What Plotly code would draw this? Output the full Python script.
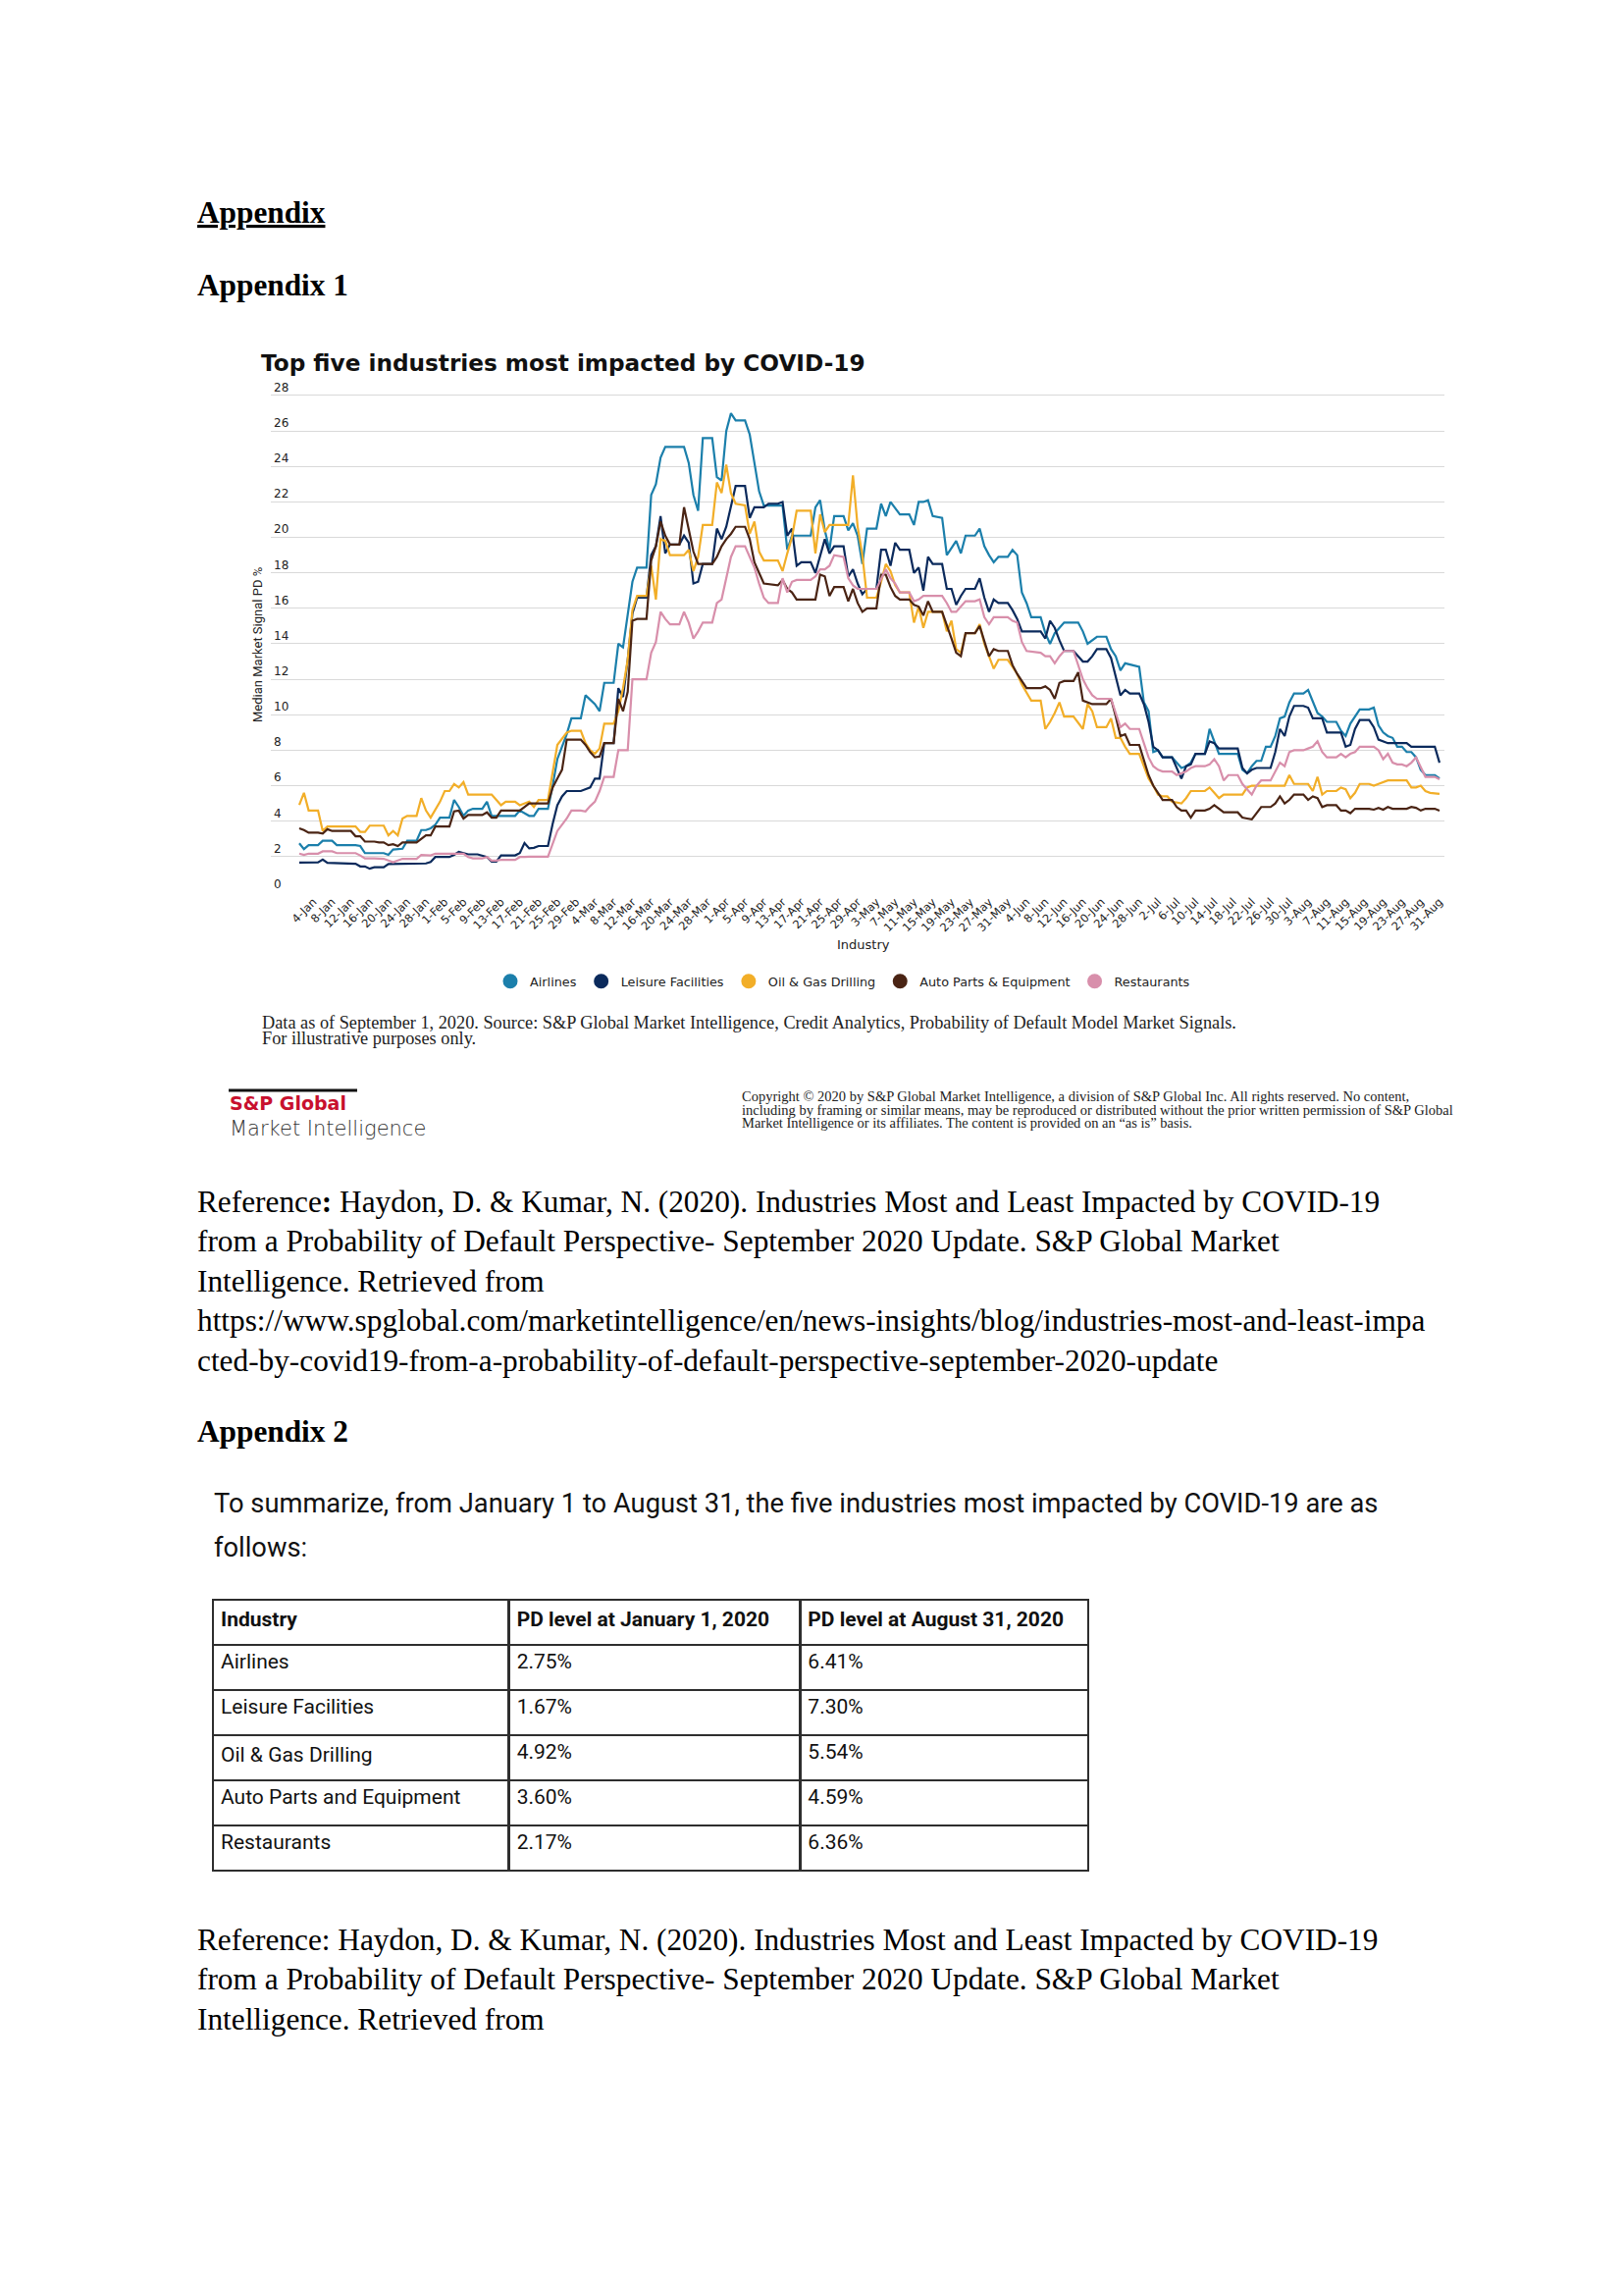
import pandas as pd
import plotly.graph_objects as go

W, H = 1655, 2317
START = pd.Timestamp("2020-01-01")

# ---------------- data (day offset from 1-Jan-2020, median market signal PD %) ----------------
series_names = ["Airlines", "Leisure Facilities", "Oil & Gas Drilling", "Auto Parts & Equipment", "Restaurants"]
series_colors = ["#1b7fab", "#0b2a5c", "#f2ae28", "#4a2414", "#d88fab"]

airlines = [(0,2.75),(1,2.43),(2,2.65),(4,2.65),(5,2.9),(7,2.9),(8,2.65),(12,2.65),(13,2.6),(14,2.2),(18,2.2),(19,2.1),(20,2.4),(22,2.45),(23,2.9),(25,2.9),(26,3.5),(27,3.5),(28,3.6),(29,3.8),(30,4.2),(32,4.2),(33,5.2),(34,4.8),(35,4.3),(36,4.6),(37,4.7),(39,4.7),(40,5.1),(41,4.3),(46,4.3),(47,4.6),(49,4.3),(50,4.3),(51,4.7),(53,4.7),(54,6.0),(55,7.5),(57,8.9),(58,9.8),(60,9.8),(61,11.1),(63,10.6),(64,10.2),(65,11.8),(67,11.8),(68,14.0),(69,13.8),(71,17.5),(72,18.3),(74,18.3),(75,22.4),(76,23.0),(77,24.5),(78,25.1),(82,25.1),(83,24.2),(84,22.4),(85,21.5),(86,25.6),(88,25.6),(89,23.4),(90,23.2),(91,26.0),(92,27.0),(93,26.6),(95,26.6),(96,25.8),(97,24.2),(98,22.6),(99,21.8),(103,21.8),(104,19.3),(105,20.1),(109,20.1),(110,21.7),(111,22.1),(112,20.4),(113,19.3),(114,21.2),(116,21.2),(117,20.4),(118,20.8),(119,20.1),(120,18.5),(121,20.5),(123,20.5),(124,21.9),(125,21.2),(126,22.0),(128,21.3),(130,21.3),(131,20.7),(132,22.0),(133,22.0),(134,22.1),(135,21.2),(137,21.1),(138,19.0),(139,19.4),(140,19.8),(141,19.1),(142,20.1),(144,20.1),(145,20.5),(146,19.5),(147,19.0),(148,18.6),(149,18.9),(151,18.9),(152,19.3),(153,19.0),(154,16.9),(155,16.3),(156,15.5),(158,15.5),(159,14.6),(160,14.0),(161,14.6),(163,15.2),(166,15.2),(167,14.7),(168,14.0),(170,14.4),(172,14.4),(173,13.7),(174,13.3),(175,12.5),(176,12.9),(179,12.7),(180,10.7),(181,10.2),(182,7.9),(183,8.0),(184,7.6),(186,7.6),(188,7.0),(189,7.1),(190,7.3),(191,7.8),(193,7.8),(194,9.2),(195,8.5),(196,7.8),(200,7.8),(201,6.9),(202,6.7),(203,7.1),(204,7.4),(205,7.4),(206,8.2),(207,8.2),(208,8.8),(209,9.8),(210,9.9),(211,10.7),(212,11.2),(214,11.2),(215,11.4),(216,10.8),(217,10.1),(218,9.9),(219,9.6),(221,9.6),(222,9.1),(223,8.8),(224,9.5),(226,10.3),(228,10.3),(229,10.4),(230,9.4),(231,9.0),(232,8.8),(233,8.7),(234,8.2),(235,8.2),(236,7.9),(237,7.9),(238,7.6),(239,6.9),(240,6.6),(242,6.6),(243,6.41)]

leisure = [(0,1.67),(4,1.68),(5,1.84),(6,1.65),(12,1.6),(13,1.45),(14,1.45),(15,1.32),(16,1.4),(18,1.4),(19,1.58),(21,1.58),(22,1.62),(27,1.62),(28,1.7),(29,1.98),(32,1.98),(33,2.1),(34,2.27),(35,2.2),(36,2.13),(38,2.13),(40,1.98),(41,1.72),(42,1.72),(43,2.07),(46,2.07),(47,2.2),(48,2.77),(49,2.47),(50,2.5),(51,2.6),(53,2.6),(54,3.85),(55,4.9),(56,5.4),(57,5.7),(60,5.7),(62,5.9),(63,6.4),(64,6.4),(65,8.4),(67,8.4),(68,11.5),(69,11.0),(70,13.1),(71,15.7),(72,16.6),(74,16.6),(75,19.0),(76,19.5),(77,21.2),(78,19.1),(79,19.6),(81,19.6),(82,20.1),(83,19.7),(84,17.4),(85,17.5),(86,18.5),(88,18.5),(89,20.5),(90,19.9),(91,20.6),(92,21.7),(93,22.9),(95,22.9),(96,21.1),(97,21.7),(99,21.7),(100,21.9),(102,21.9),(103,22.0),(104,20.1),(105,20.5),(106,18.4),(107,18.6),(109,18.6),(110,18.0),(111,19.0),(112,19.9),(113,19.1),(114,19.5),(116,19.5),(117,17.8),(118,18.2),(119,17.4),(120,16.8),(121,17.1),(123,17.1),(124,19.3),(125,19.3),(126,18.4),(127,19.7),(128,19.3),(130,19.3),(131,18.0),(132,18.3),(133,17.0),(134,18.9),(135,18.5),(137,18.5),(138,17.1),(139,17.1),(140,16.2),(141,16.7),(142,17.1),(144,17.1),(145,17.7),(146,16.6),(147,15.8),(148,16.5),(149,16.3),(151,16.3),(152,15.9),(153,15.4),(154,14.7),(158,14.7),(159,14.3),(160,15.3),(161,14.9),(162,14.2),(163,13.6),(165,13.6),(167,13.0),(168,13.0),(169,13.3),(170,13.7),(172,13.7),(173,13.2),(174,12.2),(175,11.1),(176,11.4),(177,11.2),(179,11.2),(180,10.6),(181,9.6),(182,8.2),(183,8.0),(184,7.6),(186,7.6),(187,7.0),(188,6.4),(189,7.1),(190,7.2),(191,7.8),(193,7.8),(194,8.5),(195,8.4),(196,8.1),(200,8.1),(201,7.0),(202,6.7),(203,6.9),(204,7.0),(207,7.0),(208,7.9),(209,9.2),(210,8.8),(211,9.9),(212,10.5),(214,10.5),(215,10.4),(216,9.8),(218,9.8),(219,9.0),(222,9.0),(223,8.2),(224,8.3),(225,9.2),(226,9.7),(228,9.7),(229,9.3),(230,8.6),(231,8.5),(232,8.4),(236,8.4),(237,8.2),(242,8.2),(243,7.30)]

oil_gas = [(0,4.92),(1,5.6),(2,4.6),(4,4.6),(5,3.45),(6,3.7),(12,3.7),(13,3.4),(14,3.4),(15,3.75),(18,3.75),(19,3.2),(20,3.45),(21,3.2),(22,4.15),(23,4.3),(25,4.3),(26,5.3),(27,4.6),(28,4.2),(30,5.1),(31,5.7),(32,5.7),(33,6.1),(34,5.9),(35,6.2),(36,5.5),(41,5.5),(42,5.2),(43,4.9),(44,5.1),(46,5.1),(47,4.9),(49,5.1),(50,4.8),(51,5.2),(53,5.2),(54,6.8),(55,8.3),(57,9.0),(58,9.1),(60,9.1),(61,8.4),(62,8.0),(63,7.8),(64,8.1),(65,9.5),(67,9.5),(68,10.2),(69,11.5),(70,13.1),(71,15.9),(72,16.7),(74,16.7),(75,18.4),(76,16.5),(77,19.9),(78,19.8),(79,19.0),(82,19.0),(83,19.3),(84,18.1),(85,18.9),(86,20.7),(88,20.7),(89,23.1),(90,22.5),(91,24.1),(92,22.5),(93,21.9),(95,21.8),(96,20.2),(97,20.9),(98,19.2),(99,18.7),(102,18.7),(103,18.1),(104,19.1),(105,20.0),(106,21.5),(109,21.5),(110,19.1),(111,21.3),(112,20.3),(113,20.7),(117,20.7),(118,23.5),(119,20.6),(120,19.0),(121,16.6),(123,16.6),(124,17.5),(125,18.5),(126,18.1),(127,17.3),(128,16.9),(130,16.9),(131,15.2),(132,16.1),(133,14.9),(134,15.8),(137,15.8),(138,14.7),(139,15.3),(140,13.7),(141,13.5),(142,14.6),(144,14.6),(145,15.1),(146,14.0),(147,13.3),(148,12.6),(149,13.1),(151,13.1),(152,12.7),(153,12.3),(154,11.7),(156,10.8),(158,10.8),(159,9.2),(160,9.6),(161,10.1),(162,10.7),(163,9.9),(165,9.9),(167,9.2),(168,10.6),(169,10.2),(170,9.3),(172,9.3),(173,9.8),(174,8.7),(175,8.7),(176,8.2),(177,7.8),(179,7.8),(180,7.1),(181,6.4),(182,6.0),(183,5.5),(184,5.4),(185,5.4),(186,5.1),(188,5.0),(189,5.3),(190,5.7),(193,5.7),(194,5.9),(195,5.6),(196,5.3),(197,5.5),(201,5.5),(202,5.9),(203,6.0),(210,6.0),(211,6.6),(212,6.1),(215,6.1),(216,5.7),(217,6.5),(218,5.5),(219,5.7),(221,5.7),(222,5.9),(223,5.8),(224,5.3),(225,5.6),(226,6.1),(228,6.1),(229,6.0),(230,6.1),(231,6.2),(232,6.3),(236,6.3),(237,5.9),(238,5.9),(239,6.0),(240,5.7),(241,5.6),(243,5.54)]

auto_parts = [(0,3.60),(1,3.5),(2,3.35),(4,3.35),(5,3.3),(6,3.55),(7,3.45),(11,3.45),(12,3.15),(13,3.15),(14,2.85),(16,2.85),(17,2.8),(18,2.8),(19,2.65),(20,2.7),(21,2.6),(22,2.8),(25,2.8),(26,3.0),(27,3.2),(28,3.2),(29,3.7),(32,3.7),(33,4.55),(34,4.6),(35,4.15),(36,4.35),(39,4.35),(40,4.5),(41,4.2),(42,4.2),(43,4.6),(47,4.6),(48,4.8),(49,5.0),(53,5.0),(54,5.9),(55,6.4),(56,6.9),(57,8.6),(60,8.6),(61,8.3),(62,7.9),(63,7.6),(64,7.65),(65,8.4),(67,8.4),(68,10.9),(69,10.2),(70,11.3),(71,15.3),(72,15.4),(74,15.4),(75,18.7),(76,19.5),(77,20.9),(78,20.1),(79,19.6),(81,19.6),(82,21.7),(83,20.4),(84,19.2),(85,18.5),(88,18.5),(89,18.9),(90,19.5),(91,19.9),(92,20.2),(93,20.6),(95,20.6),(96,19.9),(97,18.6),(98,18.0),(99,17.4),(102,17.3),(103,17.6),(104,17.1),(105,16.9),(106,16.5),(110,16.5),(111,17.9),(112,17.8),(113,16.7),(114,17.2),(116,17.2),(117,16.4),(118,17.1),(119,16.3),(120,15.8),(121,16.0),(123,16.0),(124,17.9),(125,17.9),(126,17.2),(127,16.7),(128,16.5),(130,16.5),(131,16.2),(132,16.1),(133,15.6),(134,16.4),(135,15.8),(137,15.8),(138,15.1),(139,14.3),(140,13.5),(141,13.3),(142,14.6),(144,14.6),(145,15.0),(146,14.1),(147,13.3),(148,13.7),(149,13.6),(151,13.6),(152,12.8),(153,12.3),(154,11.9),(155,11.5),(158,11.5),(159,11.6),(160,11.4),(161,10.9),(162,11.8),(163,11.9),(165,11.9),(166,12.4),(167,10.8),(168,10.7),(169,10.6),(172,10.6),(173,10.9),(174,9.9),(175,8.8),(176,8.9),(177,8.3),(179,8.3),(180,7.4),(181,6.6),(182,6.0),(183,5.6),(184,5.2),(186,5.2),(187,4.8),(188,4.6),(189,4.6),(190,4.2),(191,4.6),(193,4.6),(194,4.7),(195,4.9),(196,4.7),(197,4.5),(200,4.5),(201,4.2),(202,4.15),(203,4.1),(204,4.45),(205,4.8),(207,4.8),(208,5.0),(209,5.4),(210,5.0),(211,5.2),(212,5.5),(214,5.5),(215,5.2),(216,5.4),(217,5.3),(218,4.8),(219,4.9),(221,4.9),(222,4.6),(223,4.6),(224,4.45),(225,4.7),(228,4.7),(229,4.65),(230,4.75),(231,4.65),(232,4.8),(233,4.7),(236,4.7),(237,4.8),(238,4.75),(239,4.6),(240,4.7),(242,4.7),(243,4.59)]

restaurants = [(0,2.17),(1,2.1),(2,2.17),(4,2.17),(5,2.3),(7,2.3),(8,2.2),(12,2.2),(13,2.07),(14,1.9),(16,1.9),(18,1.88),(19,1.78),(20,1.68),(21,1.78),(22,1.88),(25,1.88),(26,2.1),(28,2.07),(29,2.17),(35,2.17),(36,1.98),(37,1.9),(39,1.9),(40,1.98),(41,1.78),(42,1.78),(43,1.82),(46,1.82),(47,1.98),(48,1.98),(49,2.0),(53,2.0),(54,2.77),(55,3.45),(57,4.15),(58,4.6),(60,4.6),(61,4.55),(62,4.85),(63,5.1),(64,5.7),(65,6.5),(67,6.5),(68,8.0),(70,8.0),(71,12.0),(74,12.0),(75,13.5),(76,14.1),(77,15.8),(78,15.4),(79,15.1),(81,15.1),(82,15.8),(83,15.2),(84,14.3),(85,14.7),(86,15.2),(88,15.2),(89,16.3),(90,16.5),(91,17.7),(92,18.9),(93,19.5),(95,19.5),(96,18.9),(97,18.3),(98,17.4),(99,16.6),(100,16.3),(102,16.3),(103,17.7),(104,16.9),(105,17.5),(106,17.6),(109,17.6),(110,17.8),(111,18.2),(112,18.2),(113,18.4),(114,19.0),(116,18.9),(117,17.7),(118,17.3),(119,17.1),(123,17.1),(124,17.7),(125,18.2),(126,17.7),(127,17.4),(128,16.9),(130,16.9),(131,16.4),(132,16.5),(133,16.7),(137,16.7),(138,16.3),(139,15.8),(140,15.8),(141,16.1),(142,16.4),(144,16.4),(145,16.5),(146,15.5),(147,15.1),(148,15.5),(151,15.5),(152,15.3),(153,15.2),(154,14.1),(155,13.6),(158,13.5),(159,13.3),(160,13.3),(161,12.9),(162,13.3),(163,13.6),(165,13.6),(167,12.0),(168,11.5),(169,11.1),(170,10.9),(173,10.9),(174,10.1),(175,9.3),(176,9.5),(177,9.2),(179,9.2),(180,8.4),(181,7.6),(182,7.1),(183,6.9),(184,6.8),(186,6.8),(187,6.6),(188,6.7),(189,6.8),(190,7.0),(191,7.1),(193,7.1),(194,7.2),(195,7.5),(196,7.1),(197,6.3),(198,6.6),(200,6.6),(201,6.1),(202,5.8),(203,5.5),(204,6.0),(205,6.3),(207,6.3),(208,6.8),(209,7.3),(210,7.1),(211,7.9),(212,8.0),(214,8.0),(215,8.1),(216,8.2),(217,8.5),(218,7.9),(219,7.6),(221,7.6),(222,7.8),(223,7.6),(224,7.8),(225,7.9),(226,8.2),(229,8.2),(230,8.0),(231,7.5),(232,7.8),(233,7.3),(234,7.2),(235,7.2),(236,7.1),(237,7.3),(238,7.6),(239,7.0),(240,6.5),(242,6.5),(243,6.36)]

x_tick_labels = ["4-Jan","8-Jan","12-Jan","16-Jan","20-Jan","24-Jan","28-Jan","1-Feb","5-Feb","9-Feb","13-Feb","17-Feb","21-Feb","25-Feb","29-Feb","4-Mar","8-Mar","12-Mar","16-Mar","20-Mar","24-Mar","28-Mar","1-Apr","5-Apr","9-Apr","13-Apr","17-Apr","21-Apr","25-Apr","29-Apr","3-May","7-May","11-May","15-May","19-May","23-May","27-May","31-May","4-Jun","8-Jun","12-Jun","16-Jun","20-Jun","24-Jun","28-Jun","2-Jul","6-Jul","10-Jul","14-Jul","18-Jul","22-Jul","26-Jul","30-Jul","3-Aug","7-Aug","11-Aug","15-Aug","19-Aug","23-Aug","27-Aug","31-Aug"]
y_tick_values = [0, 2, 4, 6, 8, 10, 12, 14, 16, 18, 20, 22, 24, 26, 28]

table_header = ["Industry", "PD level at January 1, 2020", "PD level at August 31, 2020"]
table_industries = ["Airlines", "Leisure Facilities", "Oil & Gas Drilling", "Auto Parts and Equipment", "Restaurants"]
table_jan = ["2.75%", "1.67%", "4.92%", "3.60%", "2.17%"]
table_aug = ["6.41%", "7.30%", "5.54%", "4.59%", "6.36%"]

reference_lines = [
    "Reference<b>:</b> Haydon, D. & Kumar, N. (2020). Industries Most and Least Impacted by COVID-19",
    "from a Probability of Default Perspective- September 2020 Update. S&P Global Market",
    "Intelligence. Retrieved from",
    "https://www.spglobal.com/marketintelligence/en/news-insights/blog/industries-most-and-least-impa",
    "cted-by-covid19-from-a-probability-of-default-perspective-september-2020-update",
]
reference2_lines = [
    "Reference: Haydon, D. & Kumar, N. (2020). Industries Most and Least Impacted by COVID-19",
    "from a Probability of Default Perspective- September 2020 Update. S&P Global Market",
    "Intelligence. Retrieved from",
]
source_lines = [
    "Data as of September 1, 2020. Source: S&P Global Market Intelligence, Credit Analytics, Probability of Default Model Market Signals.",
    "For illustrative purposes only.",
]
copyright_lines = [
    "Copyright © 2020 by S&P Global Market Intelligence, a division of S&P Global Inc. All rights reserved. No content,",
    "including by framing or similar means, may be reproduced or distributed without the prior written permission of S&P Global",
    "Market Intelligence or its affiliates. The content is provided on an \u201cas is\u201d basis.",
]
summary_lines = [
    "To summarize, from January 1 to August 31, the five industries most impacted by COVID-19 are as",
    "follows:",
]

# ---------------- helpers ----------------
def px(x):
    return x / W

def py(y):
    return 1 - y / H

SERIF = "Liberation Serif, Times New Roman, serif"
CHART = "DejaVu Sans, Verdana, sans-serif"
NARROW = "Liberation Sans Narrow, Arial Narrow, Roboto, sans-serif"
PLEX = "Roboto, Liberation Sans, sans-serif"

fig = go.Figure()

all_series = [airlines, leisure, oil_gas, auto_parts, restaurants]
for name, color, pts in zip(series_names, series_colors, all_series):
    days = [p[0] for p in pts]
    vals = [p[1] for p in pts]
    dates = START + pd.to_timedelta(days, unit="D")
    fig.add_trace(go.Scatter(x=dates, y=vals, mode="lines", name=name,
                             line=dict(color=color, width=2.2), showlegend=False,
                             hoverinfo="skip"))
for name, color in zip(series_names, series_colors):
    fig.add_trace(go.Scatter(x=[None], y=[None], mode="markers", name=name,
                             marker=dict(color=color, size=15, symbol="circle"),
                             showlegend=True))

tick_dates = [pd.to_datetime(t + "-2020", format="%d-%b-%Y") for t in x_tick_labels]

# y: 0 at 909px, 28 at 403px; range extended to 29 so the "28" label fits inside the plot
Y_TOP = 909 - 29 * (506 / 28)

fig.update_layout(
    width=W, height=H, autosize=False,
    margin=dict(l=0, r=0, t=0, b=0),
    paper_bgcolor="white", plot_bgcolor="white",
    font=dict(family=CHART, color="#222"),
    showlegend=True,
    legend=dict(orientation="h", x=px(859), xanchor="center", y=py(1000), yanchor="middle",
                font=dict(family=CHART, size=12.8, color="#222"), bgcolor="rgba(0,0,0,0)"),
    xaxis=dict(domain=[px(276), px(1472)], type="date",
               range=[START - pd.Timedelta(days=6.06), START + pd.Timedelta(days=244.05)],
               tickmode="array", tickvals=tick_dates, ticktext=x_tick_labels,
               tickangle=-45, tickfont=dict(family=CHART, size=11.5, color="#222"),
               showgrid=False, zeroline=False, showline=False, ticks=""),
    yaxis=dict(domain=[py(909), py(Y_TOP)], range=[0, 29],
               tickmode="array", tickvals=y_tick_values,
               ticklabelposition="inside top",
               tickfont=dict(family=CHART, size=12, color="#222"),
               showgrid=True, gridcolor="#d9d9d9", gridwidth=1.3,
               zeroline=False, showline=False, ticks=""),
)

ann = []

def text(t, x, y, size, family=SERIF, color="#000", xanchor="left", angle=0, weight=None):
    f = dict(family=family, size=size, color=color)
    if weight is not None:
        f["weight"] = weight
    ann.append(dict(text=t, x=px(x), y=py(y), xref="paper", yref="paper",
                    xanchor=xanchor, yanchor="middle", showarrow=False,
                    textangle=angle, font=f))

BODY = 31.3
text("<b><u>Appendix</u></b>", 199, 216, BODY)
text("<b>Appendix 1</b>", 199, 291, BODY)
text("<b>Top five industries most impacted by COVID-19</b>", 264, 369, 23.2, CHART, "#111")
text("Median Market Signal PD %", 262, 657, 13, NARROW, "#222", xanchor="center", angle=-90)
text("Industry", 880, 962, 13, CHART, "#222", xanchor="center")
for i, line in enumerate(source_lines):
    text(line, 265, 1042 + 16 * i, 18.3, SERIF, "#222")
text("<b>S&P Global</b>", 232, 1124, 19, CHART, "#c8102e")
text("Market Intelligence", 232, 1150, 21, CHART, "#333", weight=200)
for i, line in enumerate(copyright_lines):
    text(line, 754, 1117 + 13.5 * i, 14.5, SERIF, "#222")
for i, line in enumerate(reference_lines):
    text(line, 199, 1224 + 40.5 * i, BODY)
text("<b>Appendix 2</b>", 199, 1458, BODY)
for i, line in enumerate(summary_lines):
    text(line, 216, 1532 + 45 * i, 27.3, PLEX, "#111")
for i, line in enumerate(reference2_lines):
    text(line, 199, 1976 + 40.5 * i, BODY)

fig.update_layout(annotations=ann)

fig.add_shape(type="line", xref="paper", yref="paper", x0=px(233), x1=px(364), y0=py(1111), y1=py(1111),
              line=dict(color="#111", width=3))

fig.add_trace(go.Table(
    domain=dict(x=[px(217), px(1110)], y=[py(1912), py(1630)]),
    columnwidth=[302, 297, 294],
    header=dict(values=["<b>%s</b>" % h for h in table_header], height=46, align="left",
                line=dict(color="#2e2e2e", width=2.6), fill_color="white",
                font=dict(family=PLEX, size=21, color="#111")),
    cells=dict(values=[table_industries, table_jan, table_aug], height=46, align="left",
               line=dict(color="#2e2e2e", width=2.6), fill_color="white",
               font=dict(family=PLEX, size=21, color="#111")),
))

fig.write_html("out.html", config={"displayModeBar": False},
               post_script="document.body.style.margin='0px';")
